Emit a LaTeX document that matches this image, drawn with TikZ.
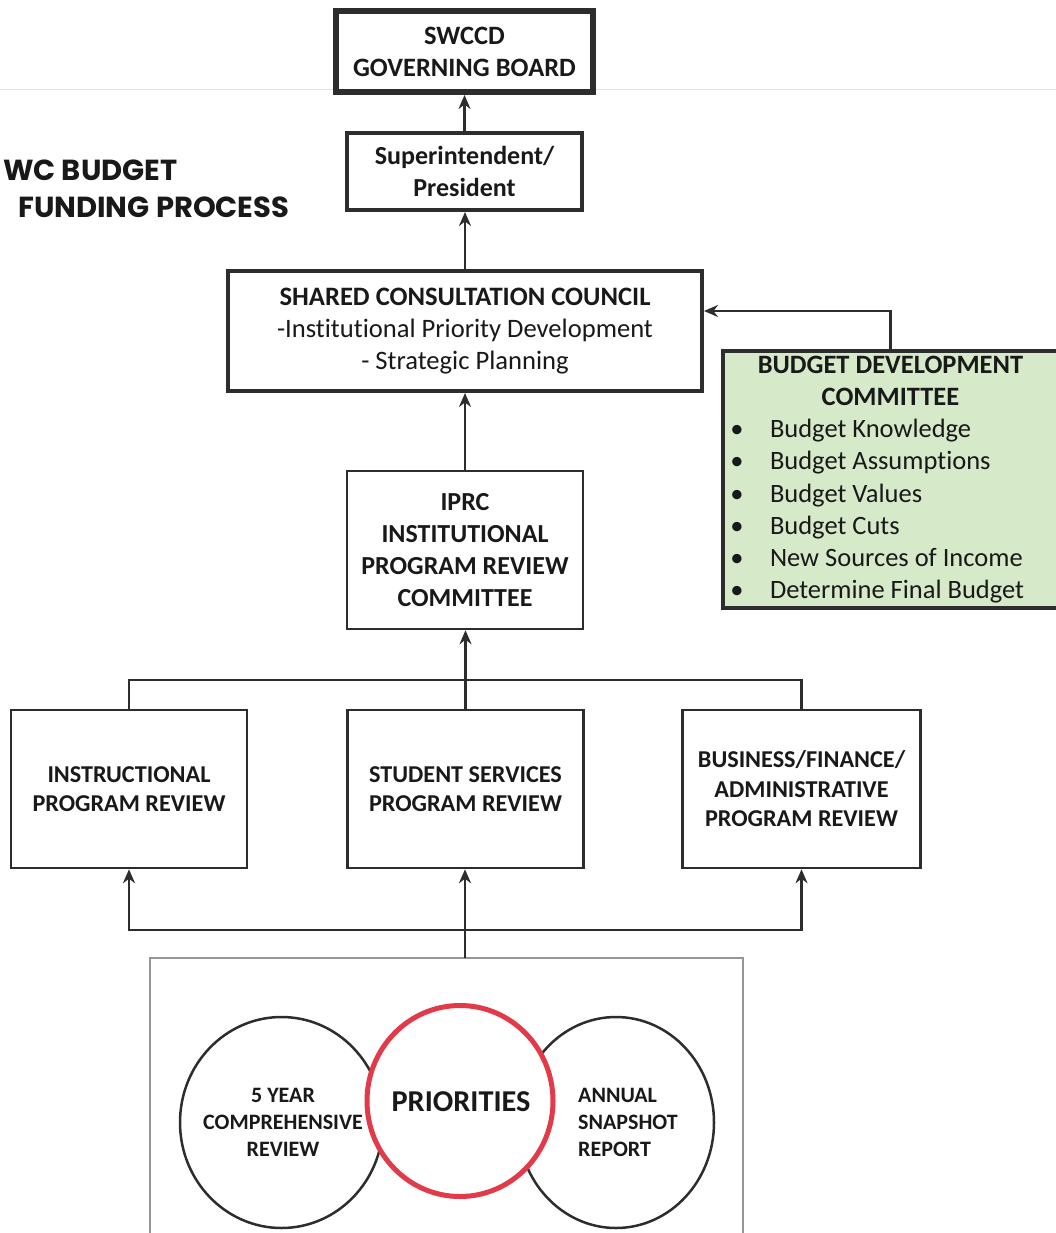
\documentclass[tikz,border=0pt]{standalone}
\usepackage{fontspec}
\setmainfont{Carlito}[Ligatures=NoCommon]
\newfontfamily\titlefont{Poppins}
\usetikzlibrary{arrows.meta,shapes.geometric}
\definecolor{linegray}{RGB}{45,45,45}
\definecolor{txt}{RGB}{25,25,25}
\definecolor{bdcgreen}{RGB}{214,234,202}
\definecolor{prired}{RGB}{226,58,72}
\definecolor{faintpink}{RGB}{248,215,235}
\begin{document}
\begin{tikzpicture}[x=1pt,y=-1pt,
  box/.style={draw=linegray, fill=white, inner sep=0pt, align=center, text=txt},
  conn/.style={draw=linegray, line width=2.5pt},
  arr/.style={conn, -{Stealth[length=14pt,width=12pt]}},
  circ/.style={ellipse, draw=linegray, line width=2.5pt, inner sep=0pt},
  ctext/.style={text=txt, font=\bfseries\fontsize{22}{27}\selectfont, inner sep=0pt}
]
\useasboundingbox (0,0) rectangle (1056,1233);
\clip (0,0) rectangle (1056,1233);

\draw[faintpink, line width=1pt] (0,90) -- (1056,90);

% title
\node[anchor=west, text=txt, inner sep=0pt, font=\titlefont\bfseries\fontsize{29}{30}\selectfont] (t1) at (3,170) {WC BUDGET};
\node[anchor=west, text=txt, inner sep=0pt, font=\titlefont\bfseries\fontsize{29}{30}\selectfont] (t2) at (18,207) {FUNDING PROCESS};

% boxes
\node[box, line width=6pt, minimum width=257, minimum height=81,
  font=\bfseries\fontsize{26.5}{32}\selectfont] (gb) at (464.5,51.5) {SWCCD\\GOVERNING BOARD};
\node[box, line width=4pt, minimum width=235, minimum height=77,
  font=\bfseries\fontsize{26}{32}\selectfont] (sup) at (464.5,171.5) {Superintendent/\\President};
\node[box, line width=4pt, minimum width=474, minimum height=120,
  font=\fontsize{26.6}{32}\selectfont] (scc) at (465,331)
  {\textbf{SHARED CONSULTATION COUNCIL}\\-Institutional Priority Development\\- Strategic Planning};
\node[box, draw=linegray, fill=bdcgreen, line width=4pt, minimum width=335, minimum height=257,
  font=\fontsize{26.5}{32.2}\selectfont] (bdc) at (890.5,479.5)
  {\begin{minipage}{323pt}\centering\bfseries BUDGET DEVELOPMENT\\COMMITTEE\par
   \raggedright\mdseries
   \makebox[16pt]{\textbullet}\hspace{25pt}Budget Knowledge\\
   \makebox[16pt]{\textbullet}\hspace{25pt}Budget Assumptions\\
   \makebox[16pt]{\textbullet}\hspace{25pt}Budget Values\\
   \makebox[16pt]{\textbullet}\hspace{25pt}Budget Cuts\\
   \makebox[16pt]{\textbullet}\hspace{25pt}New Sources of Income\\
   \makebox[16pt]{\textbullet}\hspace{25pt}Determine Final Budget\end{minipage}};
\node[box, line width=2.5pt, minimum width=236, minimum height=158,
  font=\bfseries\fontsize{26}{32}\selectfont] (iprc) at (465,550)
  {IPRC\\INSTITUTIONAL\\PROGRAM REVIEW\\COMMITTEE};
\node[box, line width=2.5pt, minimum width=236, minimum height=158,
  font=\bfseries\fontsize{24.2}{29.5}\selectfont] (ins) at (129,789)
  {INSTRUCTIONAL\\PROGRAM REVIEW};
\node[box, line width=2.5pt, minimum width=236, minimum height=158,
  font=\bfseries\fontsize{24.2}{29.5}\selectfont] (ss) at (465.5,789)
  {STUDENT SERVICES\\PROGRAM REVIEW};
\node[box, line width=2.5pt, minimum width=238, minimum height=158,
  font=\bfseries\fontsize{24.2}{29.5}\selectfont] (bus) at (801.5,789)
  {BUSINESS/FINANCE/\\ADMINISTRATIVE\\PROGRAM REVIEW};

% bottom panel
\node[draw={rgb,255:red,150;green,150;blue,150}, line width=1.5pt, inner sep=0pt,
  minimum width=593, minimum height=290] (panel) at (446.5,1103) {};
\coordinate (prtop) at (465,958);

\node[circ, minimum width=203, minimum height=211] (c5) at (281.5,1122.5) {};
\node[circ, minimum width=196, minimum height=211] (can) at (616,1122.5) {};
\node[ellipse, draw=prired, fill=white, line width=5pt, inner sep=0pt,
  minimum width=186, minimum height=191] (cpri) at (460,1101) {};
\node[ctext, align=center] (t5) at (283,1122) {5 YEAR\\COMPREHENSIVE\\REVIEW};
\node[ctext, align=left, anchor=west] (tan) at (578,1122) {ANNUAL\\SNAPSHOT\\REPORT};
\node[text=txt, inner sep=0pt, font=\bfseries\fontsize{30.3}{32}\selectfont] (tpri) at (461,1102) {PRIORITIES};

% connectors
\draw[arr] (sup.north) -- (gb.south);
\draw[arr] (scc.north) -- (scc.north |- sup.south);
\draw[arr] (bdc.north) |- ([yshift=20pt]scc.east);
\draw[arr] (iprc.north) -- (iprc.north |- scc.south);
\coordinate (tjoin) at (465,680);
\draw[arr] (ss.north) -- (ss.north |- iprc.south);
\draw[conn] (ins.north) |- (tjoin);
\draw[conn] (bus.north) |- (tjoin);
\coordinate (bjoin) at (465,930);
\draw[arr] (bjoin) -| (ins.south);
\draw[arr] (bjoin) -| (bus.south);
\draw[arr] (prtop) -- (prtop |- ss.south);
\end{tikzpicture}
\end{document}
